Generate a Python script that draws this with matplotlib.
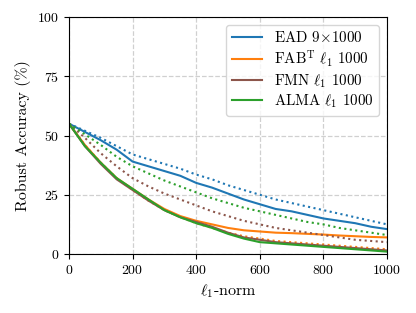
import matplotlib
matplotlib.use("Agg")
import matplotlib.pyplot as plt
import numpy as np

plt.rcParams['font.family'] = 'serif'
plt.rcParams['font.serif'] = ['cmr10']
plt.rcParams['mathtext.fontset'] = 'cm'
plt.rcParams['axes.unicode_minus'] = False
plt.rcParams['axes.formatter.use_mathtext'] = True

x = np.arange(0, 1001, 50)

ead = [55, 51.5, 48, 44, 39, 37, 35, 33, 30, 28, 25.5, 23, 21, 19, 18, 16.5, 15, 14, 13, 11.5, 10.5]
ead_dot = [55, 52, 49, 45.5, 42, 40, 38, 36, 33.5, 31.5, 29, 27, 25, 23, 21.5, 20, 18.5, 17, 15.5, 14, 12.5]
fab = [55, 46, 38.5, 32, 27.5, 23, 19, 16, 14, 12.5, 11, 10, 9.5, 9, 8.8, 8.5, 8.2, 7.8, 7.5, 7.2, 7]
fab_dot = [55, 46, 38.5, 32, 27, 22.5, 18.5, 15.5, 13, 11, 9, 7.5, 6.5, 5.5, 5, 4.5, 4, 3.5, 3, 2.5, 2]
fmn = [55, 45.5, 38, 31.5, 27, 22.5, 18.5, 15.5, 13.5, 11.5, 9, 7, 6, 5, 4.5, 4, 3.5, 3, 2.5, 2, 1.5]
fmn_dot = [55, 49, 42.5, 37, 32, 28.5, 25.5, 23, 20.5, 18, 16, 14, 12.5, 11, 10, 9, 8, 7, 6, 5.5, 5]
alma = [55, 45.5, 38.5, 32, 27.5, 23, 18.5, 15.5, 13, 11, 8.5, 6.5, 5, 4.5, 4, 3.5, 3, 2.5, 2, 1.5, 1]
alma_dot = [55, 50.5, 46, 41, 37, 34, 31, 28.5, 26, 23.5, 21.5, 19.5, 18, 16.5, 15, 13.5, 12.5, 11, 10, 9, 8]

labels = ['EAD 9$\\times$1000', 'FAB$^\\mathrm{T}$ $\\ell_1$ 1000', 'FMN $\\ell_1$ 1000', 'ALMA $\\ell_1$ 1000']
colors = ['#1f77b4', '#ff7f0e', '#8c564b', '#2ca02c']
solid = [ead, fab, fmn, alma]
dotted = [ead_dot, fab_dot, fmn_dot, alma_dot]

fig = plt.figure(figsize=(4.16, 3.13), dpi=100)
ax = fig.add_axes([69/416, 59/313, 318/416, 237/313])
for s, d, c, l in zip(solid, dotted, colors, labels):
    ax.plot(x, s, color=c, lw=1.5, label=l)
    ax.plot(x, d, color=c, lw=1.5, ls=':')
ax.set_xlim(0, 1000)
ax.set_ylim(0, 100)
ax.set_xticks([0, 200, 400, 600, 800, 1000])
ax.set_yticks([0, 25, 50, 75, 100])
ax.grid(True, ls='--', color='#d0d0d0', lw=0.9)
ax.set_axisbelow(True)
ax.tick_params(labelsize=10)
ax.set_xlabel('$\\ell_1$-norm', fontsize=11.5)
ax.set_ylabel('Robust Accuracy (%)', fontsize=11.5)
ax.legend(loc='upper right', fontsize=10.8, handlelength=2.0, labelspacing=0.2,
          borderaxespad=0.5)
fig.savefig('out.png', dpi=100)
